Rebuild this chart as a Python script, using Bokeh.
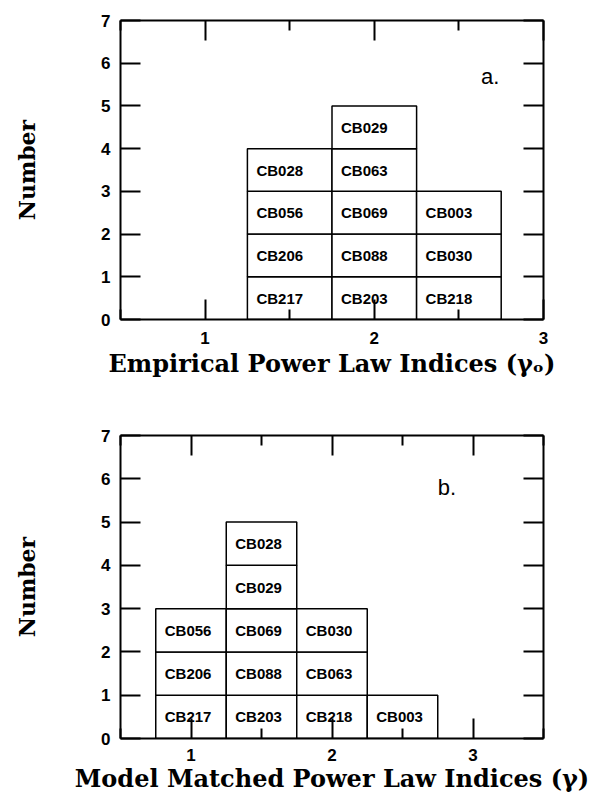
from bokeh.plotting import figure
from bokeh.layouts import column
from bokeh.models import Range1d, LinearAxis, FixedTicker, ColumnDataSource
from bokeh.core.properties import value
from bokeh.embed import file_html
from bokeh.resources import INLINE

# Histogram bins (centres) and the objects stacked in each bin, bottom to top
bin_width = 0.5

a_centers = [1.5, 2.0, 2.5]
a_stacks = [
    ["CB217", "CB206", "CB056", "CB028"],
    ["CB203", "CB088", "CB069", "CB063", "CB029"],
    ["CB218", "CB030", "CB003"],
]

b_centers = [1.0, 1.5, 2.0, 2.5]
b_stacks = [
    ["CB217", "CB206", "CB056"],
    ["CB203", "CB088", "CB069", "CB029", "CB028"],
    ["CB218", "CB063", "CB030"],
    ["CB003"],
]

x_major = [1, 2, 3]
x_minor = [0.5, 1.5, 2.5, 3.5]
y_major = [0, 1, 2, 3, 4, 5, 6, 7]

a_xlabel = "Empirical Power Law Indices (γₒ)"
b_xlabel = "Model Matched Power Law Indices (γ)"
ylabel = "Number"

SERIF = "DejaVu Serif"
SANS = "Liberation Sans"


def cells(centers, stacks):
    left, right, bottom, top, name = [], [], [], [], []
    for c, stack in zip(centers, stacks):
        for i, n in enumerate(stack):
            left.append(c - bin_width / 2)
            right.append(c + bin_width / 2)
            bottom.append(i)
            top.append(i + 1)
            name.append(n)
    return ColumnDataSource(dict(left=left, right=right, bottom=bottom, top=top,
                                 mid=[b + 0.5 for b in bottom], name=name))


def style_axis(ax, show_labels):
    ax.axis_line_width = 2
    ax.axis_line_color = "black"
    ax.major_tick_in = 20
    ax.major_tick_out = 0
    ax.minor_tick_in = 10
    ax.minor_tick_out = 0
    ax.major_tick_line_width = 2
    ax.minor_tick_line_width = 2
    if show_labels:
        ax.major_label_text_font = SANS
        ax.major_label_text_font_style = "bold"
        ax.major_label_text_font_size = "17px"
        ax.major_label_text_color = "black"
        ax.axis_label_text_font = SERIF
        ax.axis_label_text_font_style = "bold"
        ax.axis_label_text_font_size = "24px"
        ax.axis_label_text_color = "black"
    else:
        ax.major_label_text_font_size = "0px"
        ax.major_label_text_alpha = 0


def panel(centers, stacks, xr, xlabel, tag, tag_xy, height, top, bottom, left, right,
          tick_standoff, label_standoff):
    p = figure(width=595, height=height, x_range=Range1d(*xr), y_range=Range1d(0, 7),
               output_backend="svg", toolbar_location=None,
               min_border_left=left, min_border_right=right,
               min_border_top=top, min_border_bottom=bottom,
               x_axis_location=None, y_axis_location=None)
    p.grid.visible = False
    p.outline_line_color = None
    p.background_fill_color = "white"
    p.border_fill_color = "white"

    xt = FixedTicker(ticks=x_major, minor_ticks=x_minor)
    yt = FixedTicker(ticks=y_major, minor_ticks=[])

    bx = LinearAxis(ticker=xt, axis_label=xlabel)
    style_axis(bx, True)
    bx.major_label_standoff = tick_standoff
    bx.axis_label_standoff = label_standoff
    p.add_layout(bx, "below")

    tx = LinearAxis(ticker=xt)
    style_axis(tx, False)
    p.add_layout(tx, "above")

    ly = LinearAxis(ticker=yt, axis_label=ylabel)
    style_axis(ly, True)
    ly.axis_label_text_font_size = "22px"
    ly.major_label_standoff = 10
    ly.axis_label_standoff = 58
    p.add_layout(ly, "left")

    ry = LinearAxis(ticker=yt)
    style_axis(ry, False)
    p.add_layout(ry, "right")

    src = cells(centers, stacks)
    p.quad(left="left", right="right", bottom="bottom", top="top", source=src,
           fill_color="white", line_color="black", line_width=1.5)
    p.text(x="left", y="mid", text="name", source=src, x_offset=9,
           text_baseline="middle", text_align="left",
           text_font=value(SANS), text_font_style="bold",
           text_font_size="15px", text_color="black")

    p.text(x=[tag_xy[0]], y=[tag_xy[1]], text=[tag], text_font=value(SANS),
           text_font_size="22px", text_baseline="alphabetic", text_align="left",
           text_color="black")
    return p


pa = panel(a_centers, a_stacks, (0.5, 3.0), a_xlabel, "a.", (2.63, 5.7),
           400, 20, 81, 120, 50, 12, 2)
pb = panel(b_centers, b_stacks, (0.5, 3.5), b_xlabel, "b.", (2.75, 5.8),
           400, 35, 62, 117, 52, 10, 0)

layout = column(pa, pb, spacing=0)
open("out.html", "w").write(file_html(layout, INLINE))
